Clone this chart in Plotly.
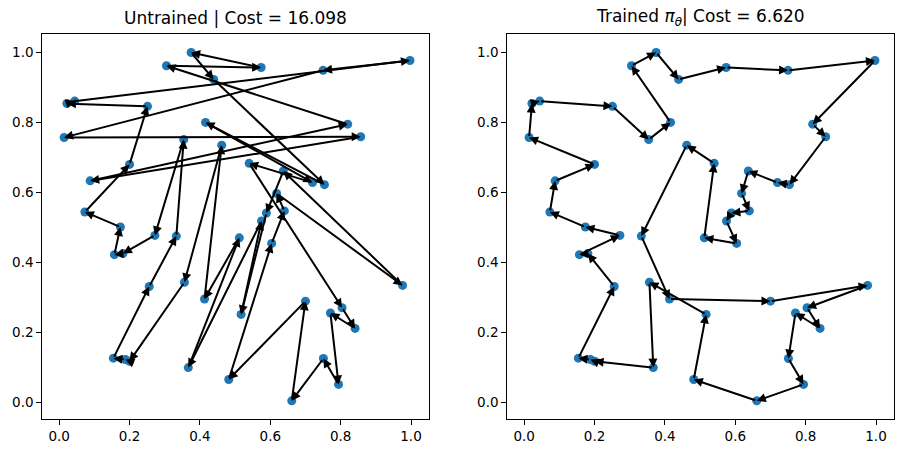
import plotly.graph_objects as go

# 50 city coordinates (same set in both panels)
x_pts = [0.305, 0.375, 0.439, 0.022, 0.044, 0.251, 0.354, 0.416, 0.014, 0.200,
         0.088, 0.073, 0.174, 0.462, 0.574, 0.750, 0.997, 0.820, 0.857, 0.540,
         0.637, 0.720, 0.754, 0.618, 0.640, 0.589, 0.575, 0.272, 0.157, 0.181,
         0.256, 0.333, 0.356, 0.413, 0.517, 0.482, 0.367, 0.154, 0.188, 0.200,
         0.512, 0.604, 0.700, 0.976, 0.804, 0.771, 0.841, 0.751, 0.794, 0.661]
y_pts = [0.962, 1.000, 0.923, 0.854, 0.861, 0.846, 0.751, 0.800, 0.757, 0.680,
         0.633, 0.544, 0.501, 0.735, 0.957, 0.949, 0.977, 0.795, 0.759, 0.683,
         0.661, 0.628, 0.622, 0.597, 0.547, 0.541, 0.518, 0.477, 0.422, 0.425,
         0.331, 0.475, 0.343, 0.295, 0.251, 0.065, 0.099, 0.126, 0.122, 0.117,
         0.470, 0.454, 0.289, 0.334, 0.270, 0.255, 0.211, 0.125, 0.051, 0.004]

# visiting orders
tour_untrained = [40, 33, 13, 32, 39, 38, 37, 30, 31, 6, 27, 29, 28, 12, 11, 9, 5, 3, 4, 16,
                  15, 8, 18, 10, 17, 0, 14, 1, 2, 22, 7, 21, 19, 44, 46, 45, 48, 47, 49, 42,
                  35, 41, 24, 23, 43, 20, 25, 34, 26, 36]
tour_trained = [13, 31, 33, 42, 43, 44, 46, 45, 47, 48, 49, 35, 34, 32, 36, 39, 38, 37, 30, 29,
                28, 27, 12, 11, 10, 9, 8, 3, 4, 5, 6, 7, 0, 1, 2, 14, 15, 16, 17, 18,
                22, 21, 20, 23, 24, 25, 26, 41, 40, 19]

titles = ["Untrained | Cost = 16.098",
          "Trained <i>π</i><sub><i>θ</i></sub>| Cost = 6.620"]
tick_vals = [0.0, 0.2, 0.4, 0.6, 0.8, 1.0]
tick_text = ["0.0", "0.2", "0.4", "0.6", "0.8", "1.0"]

W, H = 904, 453
dom_left = [42.3 / W, 429.3 / W]
dom_right = [507.3 / W, 894.3 / W]
dom_y = [1 - 419.0 / H, 1 - 34.3 / H]
rng = [-0.048, 1.052]

fig = go.Figure()
for k, (tour, xa, ya) in enumerate([(tour_untrained, "x", "y"), (tour_trained, "x2", "y2")]):
    fig.add_trace(go.Scatter(x=x_pts, y=y_pts, mode="markers", xaxis=xa, yaxis=ya,
                             marker=dict(color="#1f77b4", size=9, line=dict(width=0)),
                             showlegend=False, hoverinfo="skip"))
    n = len(tour)
    for i in range(n):
        a = tour[i]
        b = tour[(i + 1) % n]
        fig.add_annotation(x=x_pts[b], y=y_pts[b], ax=x_pts[a], ay=y_pts[a],
                           xref=xa, yref=ya, axref=xa, ayref=ya,
                           text="", showarrow=True, arrowhead=2, arrowsize=0.9,
                           arrowwidth=2.0, arrowcolor="black", standoff=0, startstandoff=0)

axis_common = dict(range=rng, showgrid=False, zeroline=False, showline=True, mirror=True,
                   linecolor="black", linewidth=1, ticks="outside", ticklen=5, tickwidth=1,
                   tickcolor="black", tickvals=tick_vals, ticktext=tick_text,
                   tickfont=dict(family="DejaVu Sans", size=13.5, color="black"))

fig.update_layout(
    width=W, height=H, margin=dict(l=0, r=0, t=0, b=0),
    paper_bgcolor="white", plot_bgcolor="white",
    xaxis=dict(domain=dom_left, anchor="y", **axis_common),
    yaxis=dict(domain=dom_y, anchor="x", **axis_common),
    xaxis2=dict(domain=dom_right, anchor="y2", **axis_common),
    yaxis2=dict(domain=dom_y, anchor="x2", **axis_common),
)
for k, dom in enumerate([dom_left, dom_right]):
    fig.add_annotation(x=(dom[0] + dom[1]) / 2, y=1 - 18.0 / H, xref="paper", yref="paper",
                       text=titles[k], showarrow=False, xanchor="center", yanchor="middle",
                       font=dict(family="DejaVu Sans", size=17, color="black"))

fig.write_html("out.html")
